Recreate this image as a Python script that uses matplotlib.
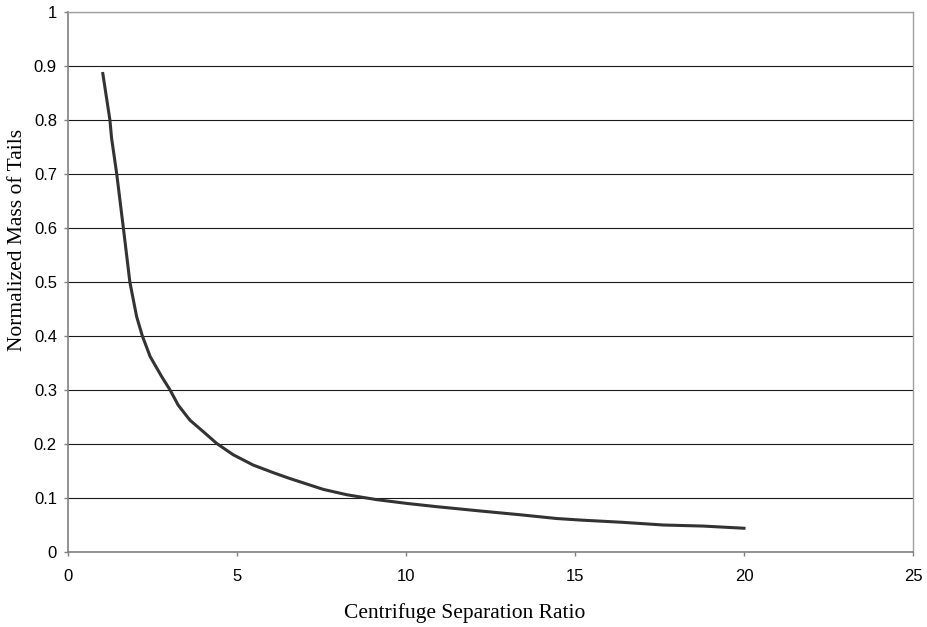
import matplotlib
matplotlib.use("Agg")
import matplotlib.pyplot as plt

# Kurve
separation_ratio = [1.03, 1.24, 1.29, 1.44, 1.64, 1.83, 2.03, 2.2, 2.43, 2.77, 3.02,
                    3.26, 3.61, 4.0, 4.4, 4.89, 5.48, 6.07, 6.52, 7.55, 8.25, 9.13,
                    10.02, 10.9, 12.19, 13.37, 14.46, 15.2, 16.4, 17.61, 18.8, 20.0]
tails_mass = [0.886, 0.80, 0.766, 0.701, 0.599, 0.50, 0.436, 0.40, 0.362, 0.325, 0.30,
              0.272, 0.244, 0.223, 0.201, 0.18, 0.161, 0.147, 0.137, 0.116, 0.106, 0.097,
              0.090, 0.084, 0.076, 0.069, 0.062, 0.059, 0.055, 0.050, 0.048, 0.044]

x_ticks = [0, 5, 10, 15, 20, 25]
y_ticks = [0, 0.1, 0.2, 0.3, 0.4, 0.5, 0.6, 0.7, 0.8, 0.9, 1]
y_tick_labels = ['0', '0.1', '0.2', '0.3', '0.4', '0.5', '0.6', '0.7', '0.8', '0.9', '1']

fig = plt.figure(figsize=(9.27, 6.27), dpi=100)
ax = fig.add_axes([68 / 927, 1 - 552 / 627, 845 / 927, 540 / 627])

ax.plot(separation_ratio, tails_mass, color='#333333', linewidth=2.2)

ax.set_xlim(0, 25)
ax.set_ylim(0, 1)
ax.set_xticks(x_ticks)
ax.set_xticklabels([str(t) for t in x_ticks], fontfamily='Liberation Sans', fontsize=12)
ax.set_yticks(y_ticks)
ax.set_yticklabels(y_tick_labels, fontfamily='Liberation Sans', fontsize=12)
ax.yaxis.grid(True, color='#1a1a1a', linewidth=0.8)
ax.set_axisbelow(True)

for side in ['left', 'bottom']:
    ax.spines[side].set_color('#808080')
    ax.spines[side].set_linewidth(1.2)
for side in ['top', 'right']:
    ax.spines[side].set_color('#a0a0a0')
    ax.spines[side].set_linewidth(1.0)
ax.tick_params(direction='out', length=3, width=1, color='#808080')
ax.tick_params(axis='x', pad=9)
ax.tick_params(axis='y', pad=5)

ax.set_xlabel('Centrifuge Separation Ratio', fontfamily='Liberation Serif', fontsize=15.5)
ax.set_ylabel('Normalized Mass of Tails', fontfamily='Liberation Serif', fontsize=15.5)
ax.xaxis.set_label_coords(0.469, -0.113)
ax.yaxis.set_label_coords(-0.060, 0.578)
ax.xaxis.label.set_va('center')
ax.yaxis.label.set_va('center')

fig.savefig('out.png', dpi=100)
